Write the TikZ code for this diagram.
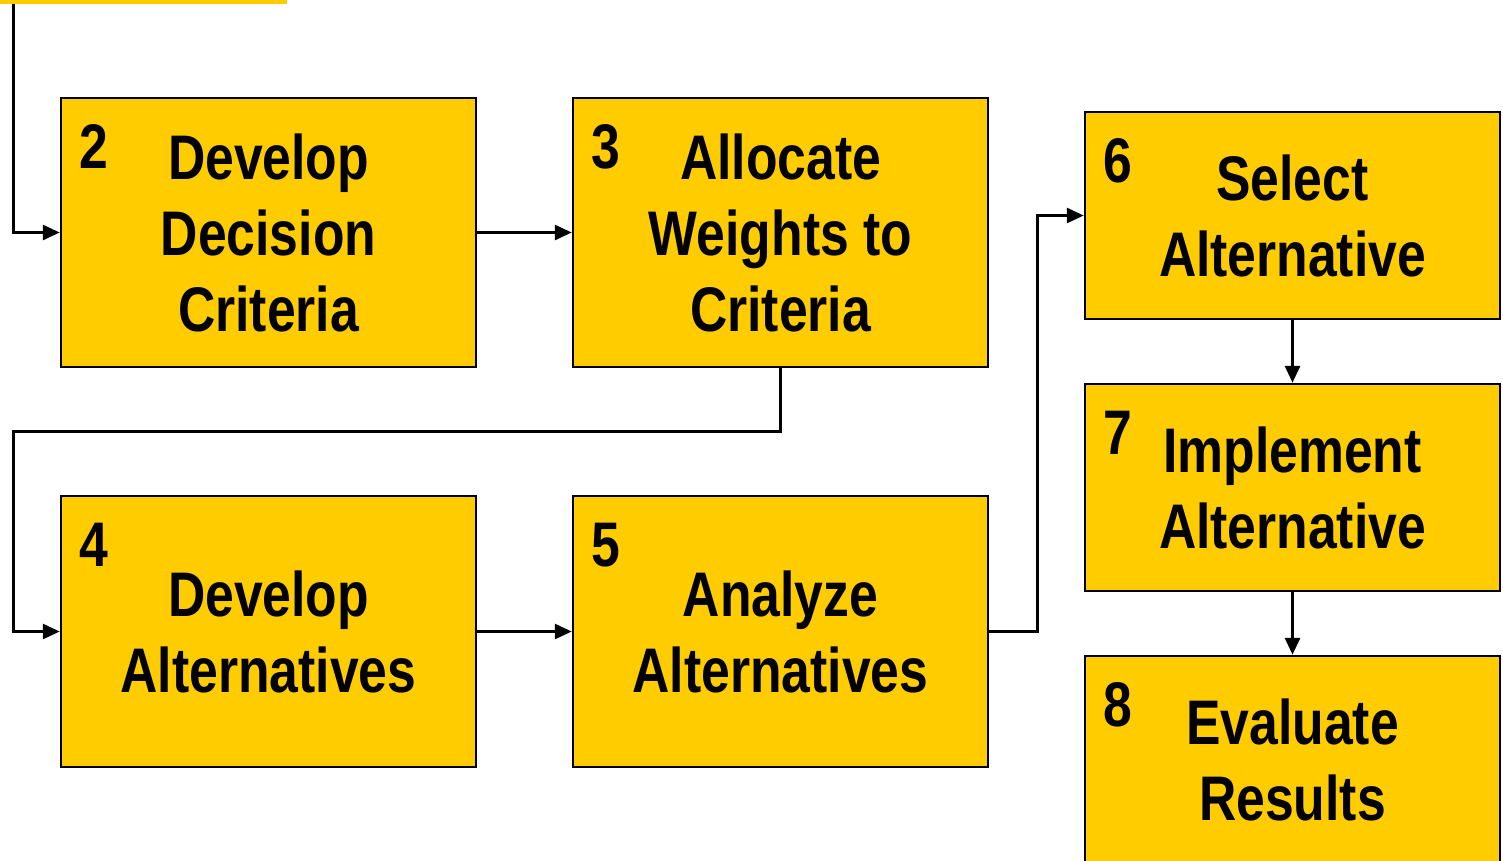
\documentclass[tikz,border=0pt]{standalone}
\usepackage{fontspec}
\newfontfamily\boxfont{Liberation Sans}[FakeStretch=0.82]
\usetikzlibrary{arrows.meta}
\definecolor{boxyellow}{RGB}{255,204,0}
\tikzset{
  x=1pt, y=1pt,
  stepbox/.style={draw=black, line width=2.5pt, fill=boxyellow,
    minimum width=415pt, inner sep=0pt, align=center,
    font=\boxfont\bfseries\fontsize{63}{76}\selectfont},
  numlabel/.style={anchor=base west, inner sep=0pt,
    font=\boxfont\bfseries\fontsize{63}{76}\selectfont},
  flow/.style={draw=black, line width=3pt,
    -{Triangle[length=17pt,width=15pt]}},
}
\begin{document}
\begin{tikzpicture}
\useasboundingbox (0,0) rectangle (1503,-860);
\clip (0,0) rectangle (1503,-860);

% first step, mostly above the page
\node[fill=boxyellow, minimum width=287pt, minimum height=40pt, inner sep=0pt,
      anchor=south west] (box1) at (0,-4) {};

% process steps
\node[stepbox, minimum height=269pt] (box2) at (268.5,-232.5)
  {Develop\\Decision\\Criteria};
\node[stepbox, minimum height=269pt] (box3) at (780.5,-232.5)
  {Allocate\\Weights to\\Criteria};
\node[stepbox, minimum height=271pt] (box4) at (268.5,-631.5)
  {Develop\\Alternatives};
\node[stepbox, minimum height=271pt] (box5) at (780.5,-631.5)
  {Analyze\\Alternatives};
\node[stepbox, minimum height=207pt] (box6) at (1292.5,-215.5)
  {Select\\Alternative};
\node[stepbox, minimum height=207pt] (box7) at (1292.5,-487.5)
  {Implement\\Alternative};
\node[stepbox, minimum height=207pt] (box8) at (1292.5,-759.5)
  {Evaluate\\Results};

% step numbers
\node[numlabel] (n2) at ([shift={(20,-72)}]box2.north west) {2};
\node[numlabel] (n3) at ([shift={(20,-72)}]box3.north west) {3};
\node[numlabel] (n4) at ([shift={(20,-72)}]box4.north west) {4};
\node[numlabel] (n5) at ([shift={(20,-72)}]box5.north west) {5};
\node[numlabel] (n6) at ([shift={(20,-72)}]box6.north west) {6};
\node[numlabel] (n7) at ([shift={(20,-72)}]box7.north west) {7};
\node[numlabel] (n8) at ([shift={(20,-72)}]box8.north west) {8};

% connectors
\coordinate (c1) at (13,-4);
\coordinate (k1) at (13,-431);
\draw[flow] (c1) |- (box2.west);
\draw[flow] (box2) -- (box3);
\draw[flow] (box3.south) |- (k1) |- (box4.west);
\draw[flow] (box4) -- (box5);
\draw[flow] (box5.east) -- ++(48,0) |- (box6.west);
\draw[flow] (box6) -- (box7);
\draw[flow] (box7) -- (box8);
\end{tikzpicture}
\end{document}
